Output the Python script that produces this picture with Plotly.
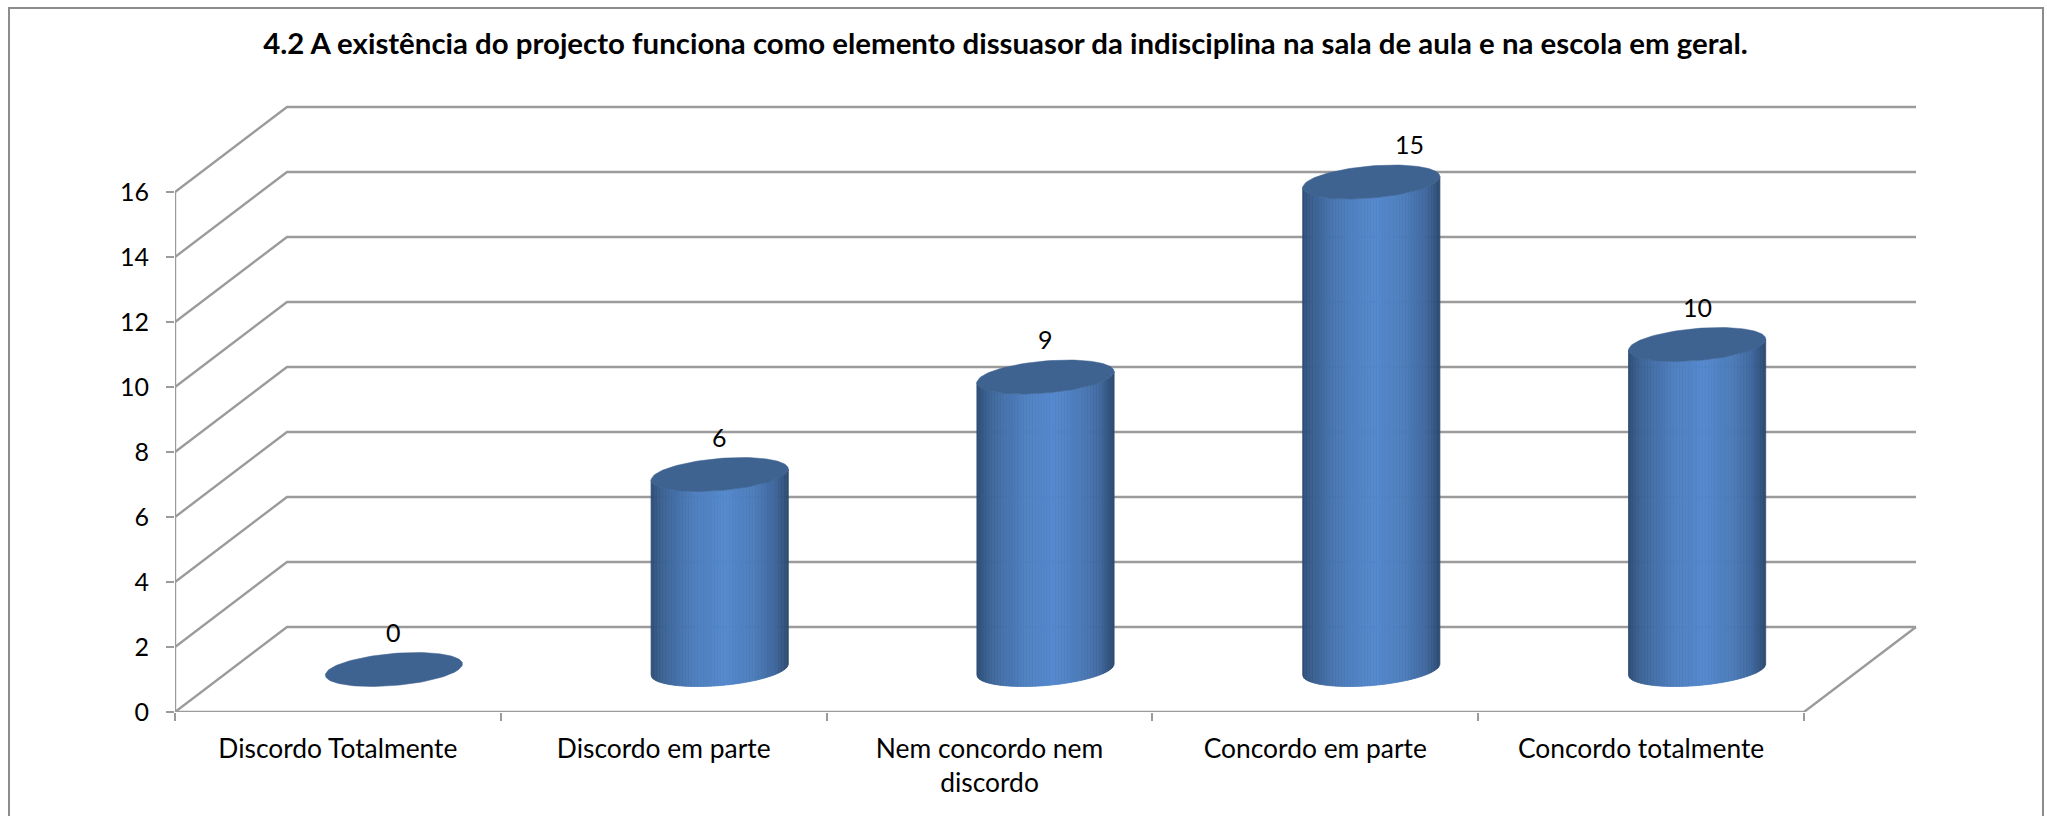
import numpy as np
import plotly.graph_objects as go

categories = ["Discordo Totalmente", "Discordo em parte", "Nem concordo nem<br>discordo", "Concordo em parte", "Concordo totalmente"]
values = [0, 6, 9, 15, 10]
value_ticks = [0, 2, 4, 6, 8, 10, 12, 14, 16]
title_text = "4.2 A existência do projecto funciona como elemento dissuasor da indisciplina na sala de aula e na escola em geral."

# plot area in pixels
W, H = 2047, 816
L, R, T, B = 175, 1917, 100, 712
UNIT_X = 325.8      # px per category
UNIT_Y = 32.5       # px per value unit
DX, DY = 112, 85    # px of the depth axis
K, M = DX / UNIT_X, DY / UNIT_Y
RU, RD = 0.199, 0.2
GRID = "#9b9b9b"
FONT = "Lato"
LABEL_SIZE = 25
CAT_SIZE = 26.4


def project(u, d, v):
    return u + K * d, v + M * d


def mix(stops, f):
    fs = [s[0] for s in stops]
    return "rgb(%d,%d,%d)" % tuple(np.interp(f, fs, [s[1][i] for s in stops]) for i in range(3))


STOPS = [(0, (47, 77, 117)), (0.08, (59, 98, 146)), (0.2, (70, 114, 171)), (0.35, (79, 128, 192)), (0.55, (84, 136, 205)),
         (0.75, (76, 124, 185)), (0.9, (65, 105, 159)), (1, (45, 74, 112))]
TOP_COLOR = "#3E6391"

fig = go.Figure()

# gridlines on side + back wall
gx, gy = [], []
for v in value_ticks:
    pts = [project(0, 0, v), project(0, 1, v), project(5, 1, v)]
    gx += [p[0] for p in pts] + [None]
    gy += [p[1] for p in pts] + [None]
# floor and axes
pts = [project(0, 0, 16), project(0, 0, 0), project(5, 0, 0), project(5, 1, 0)]
gx += [p[0] for p in pts]
gy += [p[1] for p in pts]
fig.add_trace(go.Scatter(x=gx, y=gy, mode="lines", line=dict(color=GRID, width=2.4), hoverinfo="skip",
                         showlegend=False, cliponaxis=False))

# cylinders: vertical colour bands
NB = 90
PHI = np.arctan2(K * RD, RU)


def base_point(i, t, v):
    return project(i + 0.5 + RU * np.cos(t), 0.5 + RD * np.sin(t), v)


for b in range(NB):
    f0, f1 = b / NB, (b + 1) / NB
    t0 = PHI + np.pi + np.arccos(1 - 2 * f0)
    t1 = PHI + np.pi + np.arccos(1 - 2 * f1)
    xs, ys = [], []
    for i, v in enumerate(values):
        if v <= 0:
            continue
        ts = np.linspace(t0, t1, 4)
        low = [base_point(i, t, 0) for t in ts]
        high = [base_point(i, t, v) for t in ts[::-1]]
        poly = low + high + [low[0]]
        xs += [p[0] for p in poly] + [None]
        ys += [p[1] for p in poly] + [None]
    c = mix(STOPS, (f0 + f1) / 2)
    fig.add_trace(go.Scatter(x=xs, y=ys, mode="lines", fill="toself", fillcolor=c, line=dict(color=c, width=0.8),
                             hoverinfo="skip", showlegend=False))

# top ellipses
tt = np.linspace(0, 2 * np.pi, 121)
for i, v in enumerate(values):
    p = [base_point(i, t, v) for t in tt]
    fig.add_trace(go.Scatter(x=[q[0] for q in p], y=[q[1] for q in p], mode="lines", fill="toself",
                             fillcolor=TOP_COLOR, line=dict(color=TOP_COLOR, width=0.5), hoverinfo="skip", showlegend=False))

# data labels
for i, v in enumerate(values):
    cx, cy = project(i + 0.5, 0.5, v)
    fig.add_annotation(x=cx, y=cy, text=str(v), showarrow=False, yshift=38, xshift=38 if v == 15 else 0,
                       font=dict(family=FONT, size=LABEL_SIZE, color="#000"))


# frame
def px(x):
    return (x - L) / (R - L)


def py(y):
    return (B - y) / (B - T)


fig.add_shape(type="rect", xref="paper", yref="paper", x0=px(9), x1=px(2043), y0=py(840), y1=py(8),
              line=dict(color="#8c8c8c", width=2), fillcolor="rgba(0,0,0,0)", layer="below")

fig.update_layout(
    width=W, height=H, autosize=False, margin=dict(l=L, r=W - R, t=T, b=H - B),
    paper_bgcolor="white", plot_bgcolor="white", showlegend=False,
    font=dict(family=FONT, size=LABEL_SIZE, color="#000"),
    title=dict(text="<b>" + title_text + "</b>", x=(264 + 1747) / 2 / W, xanchor="center", y=1 - 44 / H, yanchor="middle",
               font=dict(family=FONT, size=29.4, color="#000")),
    xaxis=dict(range=[0, (R - L) / UNIT_X], tickvals=[i + 0.5 for i in range(5)], ticktext=categories,
               ticks="outside", ticklen=0, showgrid=False, zeroline=False, showline=False, tickangle=0,
               ticklabelstandoff=13,
               minor=dict(tickvals=list(range(6)), ticks="outside", ticklen=8, tickcolor=GRID, tickwidth=2, showgrid=False),
               tickfont=dict(family=FONT, size=CAT_SIZE)),
    yaxis=dict(range=[0, (B - T) / UNIT_Y], tickvals=value_ticks, ticks="outside", ticklen=8, tickcolor=GRID, tickwidth=2,
               ticklabelstandoff=12, showgrid=False, zeroline=False, showline=False, tickfont=dict(family=FONT, size=LABEL_SIZE)),
)

fig.write_html("out.html", config={"displayModeBar": False},
               post_script="document.body.style.margin='0';document.body.style.overflow='hidden';")
